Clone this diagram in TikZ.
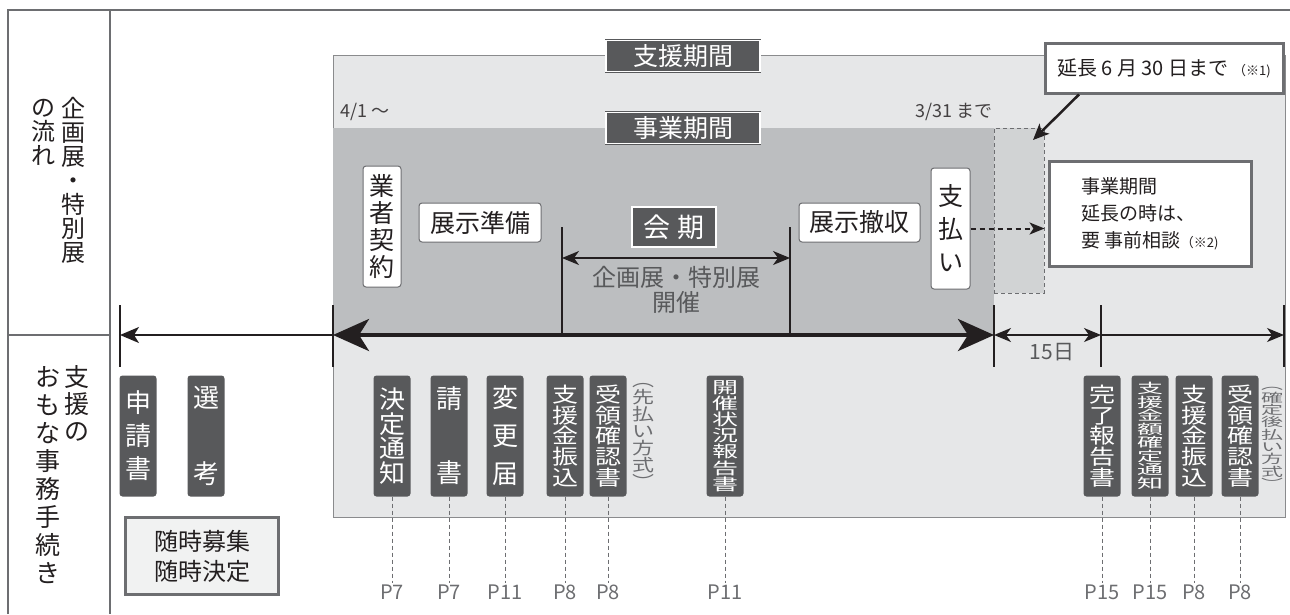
\documentclass[tikz,border=0pt]{standalone}
\usepackage{graphicx}
\usepackage{fontspec}
\setmainfont{Noto Sans CJK JP}
\usetikzlibrary{arrows.meta}

\definecolor{framegray}{HTML}{6D6E71}
\definecolor{inkblack}{HTML}{231F20}
\definecolor{docdark}{HTML}{58595B}
\definecolor{lightbg}{HTML}{E6E7E8}
\definecolor{darkbg}{HTML}{BCBEC0}
\definecolor{extbg}{HTML}{D1D3D4}
\definecolor{paper}{HTML}{F1F2F2}

% vertical (tate) text: pitch, vertical scale, characters separated by \cr
\newcommand\tate[3]{\scalebox{1}[#2]{\vbox{\baselineskip=#1pt\lineskiplimit=-\maxdimen\lineskip=0pt\halign{\hfil##\hfil\cr#3\crcr}}}}

\tikzset{
  frame/.style={draw=framegray, line width=1.5pt},
  whitebox/.style={draw=framegray, fill=white, rounded corners=3pt, line width=1pt, inner sep=0pt, text=inkblack, font=\fontsize{25}{25}\selectfont},
  docbox/.style={fill=docdark, rounded corners=3pt, text=white, inner sep=0pt, minimum width=37pt, minimum height=121pt, font=\fontsize{26}{26}\selectfont},
  period/.style={fill=docdark, draw=docdark, double=white, double distance=1.2pt, line width=.8pt, text=white, inner sep=0pt, minimum width=154pt, minimum height=31pt, font=\fontsize{25}{25}\selectfont},
  notebox/.style={draw=framegray, fill=white, line width=3pt, inner sep=0pt, text=inkblack},
  sidetext/.style={text=inkblack, inner sep=0pt, font=\fontsize{24}{24}\selectfont},
  graytext/.style={text=framegray, inner sep=0pt, font=\fontsize{22}{22}\selectfont},
  datetext/.style={text=inkblack!85, inner sep=0pt, font=\fontsize{18}{18}\selectfont},
  pageref/.style={text=framegray, font=\fontsize{20}{20}\selectfont, inner sep=1pt},
  refline/.style={draw=framegray, dash pattern=on 4pt off 3pt, line width=1pt},
  tickline/.style={draw=inkblack, line width=2.8pt},
  thinarrow/.style={draw=inkblack, line width=1.5pt},
  fatarrow/.style={draw=inkblack, line width=4pt},
  bighead/.tip={Stealth[length=36pt, width=32pt, inset=10pt]},
  smallhead/.tip={Stealth[length=17pt, width=14pt, inset=5pt]},
}

\begin{document}
\begin{tikzpicture}[x=1pt,y=-1pt]
\useasboundingbox (0,0) rectangle (1290,614);
\fill[white] (0,0) rectangle (1290,614);

\draw[frame] (8,614) -- (8,10) -- (1290,10);
\draw[frame] (110,10) -- (110,614);
\draw[frame] (8,335) -- (110,335);

\node[sidetext] (flowA) at (73,180) {\tate{24}{1}{企\cr 画\cr 展\cr ・\cr 特\cr 別\cr 展}};
\node[sidetext] (flowB) at (43,132) {\tate{24}{1}{の\cr 流\cr れ}};
\node[sidetext, font=\fontsize{25}{25}\selectfont] (procA) at (77,403) {\tate{27}{1}{支\cr 援\cr の}};
\node[sidetext, font=\fontsize{25}{25}\selectfont] (procB) at (48,475) {\tate{28}{1}{お\cr も\cr な\cr 事\cr 務\cr 手\cr 続\cr き}};

\draw[draw=framegray!80, fill=lightbg, line width=.8pt] (333,55) rectangle (1285,517);
\fill[darkbg] (333,128) rectangle (994,335);
\node[draw=framegray, dash pattern=on 4pt off 3pt, fill=extbg, line width=1pt, inner sep=0pt, minimum width=50pt, minimum height=165pt] (ext) at (1019,210.5) {};

\node[period] (shien) at (683,56) {支援期間};
\node[period] (jigyo) at (683,128) {事業期間};
\node[datetext, anchor=west] (from) at (340,112) {4/1 ～};
\node[datetext] (until) at (954,112) {3/31 まで};

\node[notebox, minimum width=238pt, minimum height=50pt, font=\fontsize{20}{20}\selectfont] (ext6) at (1164,68) {延長 6 月 30 日まで {\fontsize{13}{13}\selectfont（※1)}};
\coordinate (extTip) at (1033,140);
\draw[inkblack, line width=2.5pt, -{Stealth[length=16pt, width=14pt, inset=4pt]}] ([xshift=-85pt]ext6.south) -- (extTip);

\node[notebox, minimum width=202pt, minimum height=105pt, align=left, font=\fontsize{19}{27}\selectfont] (note) at (1150,213.5) {事業期間\\延長の時は、\\要 事前相談{\fontsize{13}{13}\selectfont（※2)}};

\node[whitebox, minimum width=38pt, minimum height=121pt] (vendor) at (382,226.5) {\tate{27}{1}{業\cr 者\cr 契\cr 約}};
\node[whitebox, minimum width=122pt, minimum height=39pt] (prep) at (480,222.5) {展示準備};
\node[whitebox, minimum width=121pt, minimum height=39pt] (remove) at (859.5,222.5) {展示撤収};
\node[whitebox, minimum width=39pt, minimum height=121pt] (pay) at (950.5,228.5) {\tate{33}{1}{支\cr 払\cr い}};
\draw[inkblack, line width=2pt, dash pattern=on 5pt off 4pt, -{Stealth[length=15pt, width=12pt, inset=4pt]}] (pay.east) -- (ext.east |- pay.east);

\node[period, minimum width=84pt, minimum height=40pt, font=\fontsize{27}{27}\selectfont] (kaiki) at (674,227) {会 期};
\draw[inkblack, line width=2pt] (562,227) -- (562,335);
\draw[inkblack, line width=2pt] (790,227) -- (790,335);
\coordinate (kA) at (562,258);
\coordinate (kB) at (790,258);
\draw[thinarrow, smallhead-smallhead] (kA) -- (kB);
\node[text=docdark, inner sep=0pt, align=center, font=\fontsize{24}{25}\selectfont] (kaisai) at (676,290) {企画展・特別展\\開催};

\coordinate (tL) at (120,335);
\coordinate (tS) at (333,335);
\coordinate (tE) at (994,335);
\coordinate (tM) at (1101,335);
\coordinate (tR) at (1284,335);
\draw[thinarrow, -{Stealth[length=19pt, width=16pt, inset=5pt]}] (tS) -- (tL);
\draw[fatarrow, bighead-bighead] (tS) -- (tE);
\draw[thinarrow, smallhead-smallhead] (tE) -- (tM);
\draw[thinarrow, -smallhead] (tM) -- (tR);
\draw[tickline] ([yshift=30pt]tL) -- ([yshift=-32pt]tL);
\draw[tickline] ([yshift=30pt]tS) -- ([yshift=-32pt]tS);
\draw[tickline] ([yshift=30pt]tE) -- ([yshift=-32pt]tE);
\draw[tickline] ([yshift=30pt]tM) -- ([yshift=-32pt]tM);
\draw[tickline] ([yshift=30pt]tR) -- ([yshift=-32pt]tR);
\node[text=docdark, inner sep=0pt, font=\fontsize{21}{21}\selectfont] (days) at (1052,352) {15日};

\node[docbox] (apply) at (138,436) {\tate{33}{1}{申\cr 請\cr 書}};
\node[docbox] (select) at (206,436) {\tate{76}{1}{選\cr 考}};
\node[draw=framegray, fill=paper, line width=2.5pt, minimum width=153pt, minimum height=77pt, align=center, text=inkblack, font=\fontsize{24}{30}\selectfont] (anytime) at (202,556) {随時募集\\随時決定};

\node[docbox] (decide) at (392,436) {\tate{26}{0.95}{決\cr 定\cr 通\cr 知}};
\node[docbox] (accept) at (449,436) {\tate{74}{1}{請\cr 書}};
\node[docbox] (change) at (505,436) {\tate{38}{1}{変\cr 更\cr 届}};
\node[docbox] (payA) at (565,436) {\tate{26}{0.8}{支\cr 援\cr 金\cr 振\cr 込}};
\node[docbox] (recvA) at (608,436) {\tate{26}{0.8}{受\cr 領\cr 確\cr 認\cr 書}};
\node[graytext] (before) at (643,436) {\tate{22}{0.77}{︵\cr 先\cr 払\cr い\cr 方\cr 式\cr ︶}};
\node[docbox] (status) at (725,436) {\tate{26}{0.62}{開\cr 催\cr 状\cr 況\cr 報\cr 告\cr 書}};
\node[docbox] (finish) at (1102,436) {\tate{26}{0.8}{完\cr 了\cr 報\cr 告\cr 書}};
\node[docbox] (fix) at (1150,436) {\tate{26}{0.52}{支\cr 援\cr 金\cr 額\cr 確\cr 定\cr 通\cr 知}};
\node[docbox] (payB) at (1194,436) {\tate{26}{0.8}{支\cr 援\cr 金\cr 振\cr 込}};
\node[docbox] (recvB) at (1240,436) {\tate{26}{0.8}{受\cr 領\cr 確\cr 認\cr 書}};
\node[graytext] (after) at (1272,438) {\tate{22}{0.56}{︵\cr 確\cr 定\cr 後\cr 払\cr い\cr 方\cr 式\cr ︶}};

\node[pageref] (pDecide) at (392,592) {P7};
\node[pageref] (pAccept) at (449,592) {P7};
\node[pageref] (pChange) at (505,592) {P11};
\node[pageref] (pPayA) at (565,592) {P8};
\node[pageref] (pRecvA) at (608,592) {P8};
\node[pageref] (pStatus) at (725,592) {P11};
\node[pageref] (pFinish) at (1102,592) {P15};
\node[pageref] (pFix) at (1150,592) {P15};
\node[pageref] (pPayB) at (1194,592) {P8};
\node[pageref] (pRecvB) at (1240,592) {P8};
\draw[refline] (decide) -- (pDecide);
\draw[refline] (accept) -- (pAccept);
\draw[refline] (change) -- (pChange);
\draw[refline] (payA) -- (pPayA);
\draw[refline] (recvA) -- (pRecvA);
\draw[refline] (status) -- (pStatus);
\draw[refline] (finish) -- (pFinish);
\draw[refline] (fix) -- (pFix);
\draw[refline] (payB) -- (pPayB);
\draw[refline] (recvB) -- (pRecvB);
\end{tikzpicture}
\end{document}
